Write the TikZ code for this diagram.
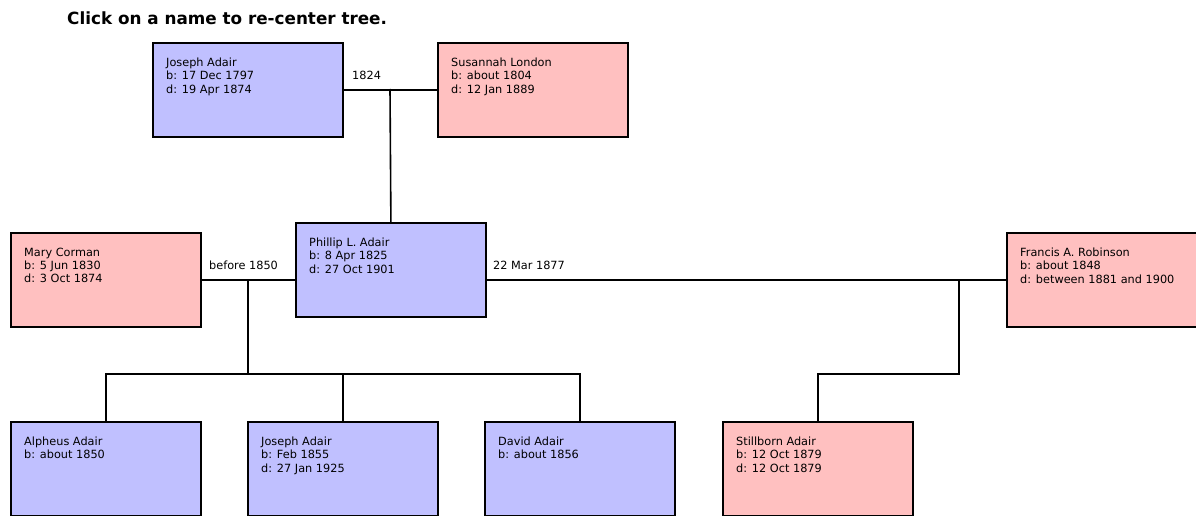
\documentclass[tikz,border=0pt]{standalone}
\usepackage{fontspec}
\setmainfont{DejaVu Sans}
\definecolor{maleblue}{RGB}{192,192,255}
\definecolor{femalepink}{RGB}{255,192,192}
\tikzset{
  person/.style={draw=black, line width=1.8pt, minimum width=190pt, minimum height=94pt, inner sep=0pt, anchor=north west},
  male/.style={person, fill=maleblue},
  female/.style={person, fill=femalepink},
  info/.style={anchor=north west, align=left, font=\fontsize{11.3}{13.2}\selectfont, inner sep=0pt},
  rel/.style={line width=1.6pt},
  mlabel/.style={font=\fontsize{11.3}{13}\selectfont, anchor=west, inner sep=0pt},
  title/.style={font=\bfseries\fontsize{16.8}{20}\selectfont, anchor=west, inner sep=0pt}
}
\begin{document}
\begin{tikzpicture}[x=1pt,y=-1pt]
\useasboundingbox (0,0) rectangle (1196,516);
\node[title] (t) at (67,18) {Click on a name to re-center tree.};
% people
\node[male] (ja) at (152,42) {};
\node[info] (jat) at ([shift={(14,16)}]ja.north west) {Joseph Adair\\b: 17 Dec 1797\\d: 19 Apr 1874};
\node[female] (sl) at (437,42) {};
\node[info] (slt) at ([shift={(14,16)}]sl.north west) {Susannah London\\b: about 1804\\d: 12 Jan 1889};
\node[female] (mc) at (10,232) {};
\node[info] (mct) at ([shift={(14,16)}]mc.north west) {Mary Corman\\b: 5 Jun 1830\\d: 3 Oct 1874};
\node[male] (pa) at (295,222) {};
\node[info] (pat) at ([shift={(14,16)}]pa.north west) {Phillip L. Adair\\b: 8 Apr 1825\\d: 27 Oct 1901};
\node[female] (fr) at (1006,232) {};
\node[info] (frt) at ([shift={(14,16)}]fr.north west) {Francis A. Robinson\\b: about 1848\\d: between 1881 and 1900};
\node[male] (c1) at (10,421) {};
\node[info] (c1t) at ([shift={(14,16)}]c1.north west) {Alpheus Adair\\b: about 1850};
\node[male] (c2) at (247,421) {};
\node[info] (c2t) at ([shift={(14,16)}]c2.north west) {Joseph Adair\\b: Feb 1855\\d: 27 Jan 1925};
\node[male] (c3) at (484,421) {};
\node[info] (c3t) at ([shift={(14,16)}]c3.north west) {David Adair\\b: about 1856};
\node[female] (c4) at (722,421) {};
\node[info] (c4t) at ([shift={(14,16)}]c4.north west) {Stillborn Adair\\b: 12 Oct 1879\\d: 12 Oct 1879};
% marriage labels
\node[mlabel] (l1) at (352,75) {1824};
\node[mlabel] (l2) at (209,265) {before 1850};
\node[mlabel] (l3) at (493,265) {22 Mar 1877};
% coordinates
\coordinate (m1) at (390,89);
\coordinate (m2) at (248,279);
\coordinate (m2d) at (248,374);
\coordinate (m3) at (959,279);
\coordinate (m3d) at (959,374);
% connectors
\draw[rel] (ja.east) -- (sl.west);
\draw[rel] (m1) -- (pa.north);
\draw[rel] (mc.east) -- (mc.east -| pa.west);
\draw[rel] (m2) -- (m2d);
\draw[rel] (c1.north) -- (c1.north |- m2d) -- (c3.north |- m2d) -- (c3.north);
\draw[rel] (c2.north) -- (c2.north |- m2d);
\draw[rel] (pa.east |- fr.west) -- (fr.west);
\draw[rel] (m3) -- (m3d) -- (c4.north |- m3d) -- (c4.north);
\end{tikzpicture}
\end{document}
